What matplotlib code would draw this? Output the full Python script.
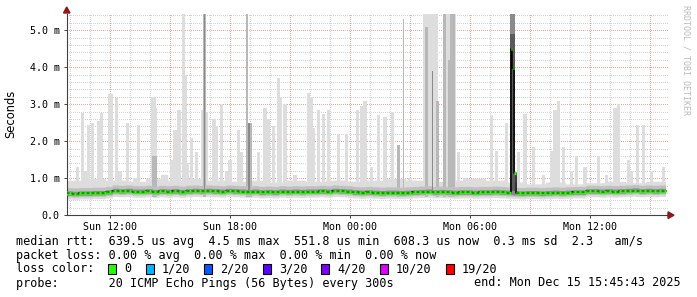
import numpy as np
import matplotlib
matplotlib.use("Agg")
import matplotlib.pyplot as plt
from matplotlib.patches import Polygon, Rectangle

W, H = 697, 297

# time axis: hours since Sun 00:00, one value every 5 minutes
t_start = 9.762            # Sun 09:45:43
step_h = 5 / 60
n_steps = 360

# median rtt (ms), one value per 20 minutes
median_20min = [
    0.59, 0.58, 0.59, 0.59,
    0.60, 0.60, 0.62,
    0.66, 0.65, 0.66, 0.64,
    0.64, 0.65, 0.63, 0.65, 0.64, 0.65, 0.63, 0.65,
    0.66, 0.65, 0.66, 0.65, 0.64, 0.66,
    0.65, 0.64, 0.63, 0.64, 0.62, 0.63,
    0.62, 0.64, 0.63, 0.64, 0.63, 0.64,
    0.64, 0.65, 0.64, 0.66, 0.65, 0.64,
    0.62, 0.61, 0.62, 0.61, 0.60, 0.61,
    0.61, 0.60, 0.61, 0.62, 0.63, 0.64,
    0.62, 0.63, 0.62, 0.61, 0.62, 0.62,
    0.61, 0.62, 0.62, 0.63, 0.62, 0.61,
    0.60, 0.59, 0.60, 0.60, 0.59, 0.60,
    0.61, 0.60, 0.61, 0.62, 0.62, 0.65,
    0.65, 0.64, 0.65, 0.64, 0.65, 0.66,
    0.67, 0.65, 0.66, 0.65, 0.66,
]

# the median jump around Mon 08:00
jump_t = [32.04, 32.12, 32.20]
jump_ms = [4.49, 3.99, 1.14]

# top of the light smoke body (ms), one value per hour
smoke_top_hourly = [
    0.95, 1.00, 0.95, 0.92, 1.00, 0.95, 1.00, 0.95, 0.92, 0.95,
    0.90, 0.95, 0.92, 0.95, 0.92, 0.95, 1.00, 0.95, 0.92, 0.95,
    1.00, 0.95, 0.90, 0.85, 0.90, 0.85, 0.88, 0.92, 0.88, 0.92,
]

# light grey smoke spikes: start hour, top (ms), duration (minutes)
light_t = [10.28, 10.53, 10.68, 10.83, 11.02, 11.32, 11.48, 11.87, 11.98, 12.23,
           12.40, 12.78, 13.15, 13.32, 14.02, 14.12, 14.18, 14.55, 14.73, 14.98,
           15.15, 15.35, 15.57, 15.65, 15.77, 15.98, 16.23, 16.53, 16.73, 17.10,
           17.23, 17.48, 17.73, 17.90, 18.32, 18.48, 19.32, 19.65, 19.82, 20.07,
           20.32, 20.42, 20.65, 21.15, 21.82, 21.98, 22.07, 22.32, 22.57, 22.82,
           23.32, 23.73, 24.28, 24.48, 24.65, 24.98, 25.32, 25.65, 26.02, 26.90,
           27.62, 28.62, 29.32, 29.65, 30.98, 31.23, 31.73, 32.32, 32.65, 33.07,
           33.57, 33.98, 34.15, 34.32, 34.57, 34.98, 35.23, 35.65, 36.32, 36.73,
           37.15, 37.32, 37.82, 37.98, 38.28, 38.57, 38.98, 39.57]
light_ms = [1.31, 2.76, 1.20, 2.44, 2.50, 2.55, 2.77, 3.28, 3.28, 3.18,
            1.20, 2.50, 1.00, 2.45, 3.20, 3.20, 2.90, 1.10, 1.10, 1.50,
            2.30, 2.85, 6.00, 3.80, 1.40, 2.10, 1.70, 2.85, 2.80, 2.60,
            2.40, 3.00, 1.20, 1.50, 2.30, 1.70, 1.70, 2.90, 2.60, 2.40,
            3.70, 3.20, 3.00, 1.10, 3.30, 3.20, 2.35, 2.85, 2.75, 2.85,
            2.20, 2.20, 2.85, 2.95, 3.10, 1.30, 2.70, 2.65, 2.80, 1.00,
            6.00, 6.00, 1.70, 1.00, 2.70, 1.75, 2.50, 1.70, 2.75, 1.85,
            1.10, 1.75, 2.85, 3.10, 1.85, 1.20, 1.60, 1.30, 1.60, 1.10,
            2.90, 3.00, 1.50, 1.20, 2.45, 2.45, 1.20, 1.30]
light_min = [10, 10, 10, 10, 10, 10, 10, 15, 10, 10,
             10, 10, 15, 10, 10, 10, 10, 15, 10, 10,
             10, 10, 10, 10, 10, 10, 10, 10, 10, 10,
             10, 10, 10, 10, 10, 10, 10, 10, 10, 10,
             10, 10, 10, 10, 10, 10, 10, 10, 10, 10,
             10, 10, 10, 10, 10, 10, 10, 10, 10, 10,
             47, 40, 10, 10, 10, 10, 10, 10, 10, 10,
             10, 10, 10, 10, 10, 10, 10, 10, 10, 10,
             10, 10, 10, 10, 10, 10, 10, 10]

# medium grey spikes
mid_t = [14.10, 16.64, 18.80, 18.90, 26.32, 26.62, 27.73, 28.27, 28.62, 28.90, 29.00]
mid_ms = [1.60, 6.00, 6.00, 2.50, 1.90, 5.30, 5.10, 3.10, 6.00, 4.20, 6.00]
mid_min = [15, 10, 5, 10, 10, 5, 10, 10, 10, 5, 15]

# dark grey spikes
dark_t = [16.67, 18.90, 28.07, 32.00]
dark_ms = [6.00, 2.50, 3.90, 6.00]
dark_min = [5, 5, 5, 15]

x_ticks = [12, 18, 24, 30, 36]
x_labels = ["Sun 12:00", "Sun 18:00", "Mon 00:00", "Mon 06:00", "Mon 12:00"]
y_ticks = [0, 1, 2, 3, 4, 5]
y_labels = ["0.0", "1.0 m", "2.0 m", "3.0 m", "4.0 m", "5.0 m"]

loss_labels = ["0", "1/20", "2/20", "3/20", "4/20", "10/20", "19/20"]
loss_colors = ["#26ff00", "#00b8ff", "#0059ff", "#5e00ff", "#7e00ff", "#dd00ff", "#ff0000"]

MONO = "DejaVu Sans Mono"


def fx(x):
    return x / W


def fy(y):
    return 1 - y / H


# build per-step series
edges = t_start + np.arange(n_steps + 1) * step_h
med = np.repeat(np.array(median_20min), 4)
for tj, vj in zip(jump_t, jump_ms):
    med[int((tj - t_start) / step_h)] = vj
top = np.repeat(np.array(smoke_top_hourly), 12)
med_e = np.append(med, med[-1])
top_e = np.append(top, top[-1])
base_med = np.repeat(np.array(median_20min), 4)
base_e = np.append(base_med, base_med[-1])

fig = plt.figure(figsize=(W / 100, H / 100), dpi=100)
ax = fig.add_axes([fx(66.5), fy(215.3), fx(668 - 66.5), (215.3 - 14) / H])
ax.set_xlim(9.81, 39.885)
ax.set_ylim(0, 5.44)

# grid (dotted)
for h in np.arange(10, 40):
    major = h % 3 == 0
    ax.axvline(h, color="#eba5a5" if major else "#d2d2d2", lw=0.72,
               ls=(0, (1, 1.6)), antialiased=False, zorder=0)
for v in np.arange(0.2, 5.44, 0.2):
    major = abs(v - round(v)) < 1e-6
    ax.axhline(v, color="#eba5a5" if major else "#d2d2d2", lw=0.72,
               ls=(0, (1, 1.6)), antialiased=False, zorder=0)

# smoke
ax.fill_between(edges, base_e - 0.15, top_e, step="post", color="#dddddd", lw=0, zorder=1)
ax.bar(light_t, np.array(light_ms) - 0.5, bottom=0.5, width=np.array(light_min) / 60,
       align="edge", color="#dddddd", lw=0, zorder=1)
ax.bar(mid_t, np.array(mid_ms) - 0.5, bottom=0.5, width=np.array(mid_min) / 60,
       align="edge", color="#b8b8b8", lw=0, zorder=2)
ax.bar(dark_t, np.array(dark_ms) - 0.6, bottom=0.6, width=np.array(dark_min) / 60,
       align="edge", color="#8a8a8a", lw=0, zorder=3)
ax.bar(dark_t[-1:], [4.3], bottom=0.6, width=dark_min[-1] / 60,
       align="edge", color="#5a5a5a", lw=0, zorder=3)
ax.fill_between(edges, base_e - 0.09, base_e + 0.16, step="post", color="#c0c0c0", lw=0, zorder=2)
ax.fill_between(edges, base_e - 0.05, base_e + 0.07, step="post", color="#8c8c8c", lw=0, zorder=3)

# median line
ax.step(edges, med_e, where="post", color="black", lw=1.1, zorder=4)
ax.hlines(med, edges[:-1] + 0.03, edges[1:], color=loss_colors[0], lw=2.3, zorder=5)

# axes styling
for s in ["top", "right"]:
    ax.spines[s].set_visible(False)
for s in ["left", "bottom"]:
    ax.spines[s].set_color("#404040")
    ax.spines[s].set_linewidth(0.8)
ax.set_facecolor("white")
ax.set_xticks(x_ticks)
ax.set_xticklabels(x_labels, family=MONO, fontsize=7.2)
ax.set_yticks(y_ticks)
ax.set_yticklabels(y_labels, family=MONO, fontsize=7.2)
ax.tick_params(length=2, width=0.7, color="#404040", pad=3)

# arrows
fig.add_artist(Polygon([(fx(63.5), fy(13)), (fx(70), fy(13)), (fx(66.7), fy(7))],
                       closed=True, color="#8b1a1a", transform=fig.transFigure))
fig.add_artist(Polygon([(fx(668), fy(211.8)), (fx(668), fy(218.5)), (fx(674), fy(215.2))],
                       closed=True, color="#8b1a1a", transform=fig.transFigure))

fig.text(fx(11), fy(114), "Seconds", rotation=90, ha="center", va="center", fontsize=8.3)
fig.text(fx(686), fy(60), "RRDTOOL / TOBI OETIKER", rotation=270, ha="center",
         va="center", fontsize=6, family=MONO, color="#bbbbbb")

# legend block
fs = 8.45
cw = 7.03
fig.text(fx(16), fy(241), "median rtt:  639.5 us avg  4.5 ms max  551.8 us min  "
         "608.3 us now  0.3 ms sd  2.3   am/s", family=MONO, fontsize=fs, va="center")
fig.text(fx(16), fy(255), "packet loss: 0.00 % avg  0.00 % max  0.00 % min  0.00 % now",
         family=MONO, fontsize=fs, va="center")
fig.text(fx(16), fy(269), "loss color:", family=MONO, fontsize=fs, va="center")
x = 108
for lab, col in zip(loss_labels, loss_colors):
    fig.add_artist(Rectangle((fx(x), fy(274)), 8 / W, 10 / H, facecolor=col,
                             edgecolor="black", lw=0.8, transform=fig.transFigure))
    fig.text(fx(x + 16), fy(269), lab, family=MONO, fontsize=fs, va="center")
    x = x + 16 + len(lab) * cw + 14.5
fig.text(fx(16), fy(283), "probe:       20 ICMP Echo Pings (56 Bytes) every 300s",
         family=MONO, fontsize=fs, va="center")
fig.text(fx(681), fy(283), "end: Mon Dec 15 15:45:43 2025", family=MONO,
         fontsize=fs, va="center", ha="right")

fig.savefig("out.png", dpi=100, facecolor="white")
